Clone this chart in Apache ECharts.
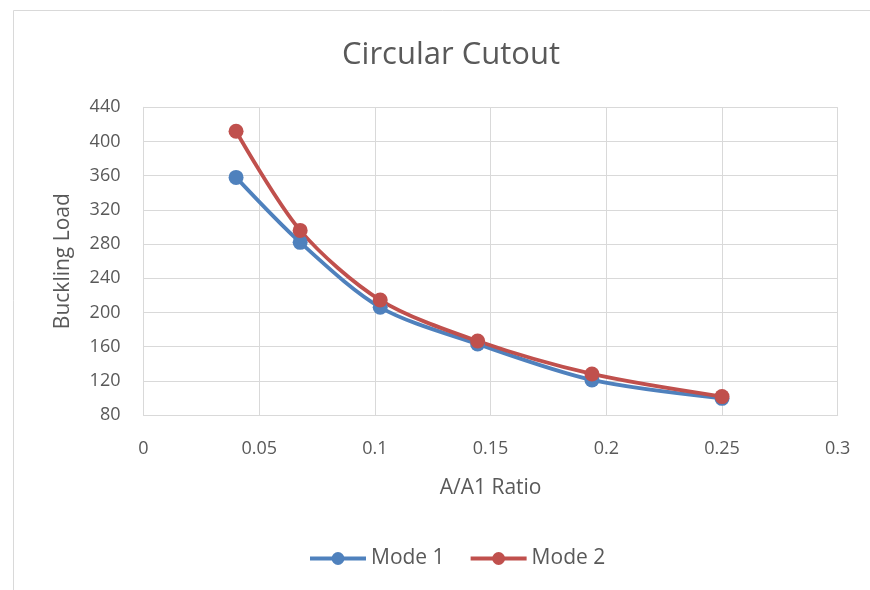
<!DOCTYPE html>
<html>
<head>
<meta charset="utf-8">
<script src="https://cdn.jsdelivr.net/npm/echarts@6/dist/echarts.min.js"></script>
<style>
html,body{margin:0;padding:0;background:#fff;}
#chart{width:870px;height:590px;}
</style>
</head>
<body>
<div id="chart"></div>
<script>
const ratios = [0.04, 0.0677, 0.1023, 0.1444, 0.1938, 0.25];
const mode1 = [358, 282, 206, 163, 121, 99.5];
const mode2 = [412, 296, 214.5, 166.5, 128, 101.5];
const seriesNames = ['Mode 1', 'Mode 2'];

const FONT = '"Open Sans", "Noto Sans", sans-serif';
const txt = '#595959';

const chart = echarts.init(document.getElementById('chart'));
chart.setOption({
  animation: false,
  backgroundColor: '#fff',
  graphic: [{
    type: 'rect', left: 11, top: 8,
    shape: { width: 900, height: 620 },
    style: { fill: 'none', stroke: '#d9d9d9', lineWidth: 1 },
    silent: true, z: -1
  }],
  title: {
    text: 'Circular Cutout', left: 446, textAlign: 'center', top: 35,
    textStyle: { fontFamily: FONT, fontSize: 31, fontWeight: 'normal', color: txt }
  },
  legend: {
    bottom: 16, left: 303, itemGap: 24, itemWidth: 56, itemHeight: 16,
    lineStyle: { width: 4 },
    textStyle: { fontFamily: FONT, fontSize: 21, color: txt },
    data: seriesNames
  },
  grid: { left: 143.5, right: 32.3, top: 107.3, bottom: 175 },
  xAxis: {
    type: 'value', min: 0, max: 0.3, interval: 0.05,
    name: 'A/A1 Ratio', nameLocation: 'middle', nameGap: 63,
    nameTextStyle: { fontFamily: FONT, fontSize: 21, color: txt },
    axisLine: { lineStyle: { color: '#d9d9d9', width: 1 } },
    axisTick: { show: false },
    axisLabel: { fontFamily: FONT, fontSize: 18, color: txt, margin: 25 },
    splitLine: { show: true, lineStyle: { color: '#d9d9d9', width: 1 } }
  },
  yAxis: {
    type: 'value', min: 80, max: 440, interval: 40,
    name: 'Buckling Load', nameLocation: 'middle', nameGap: 70, nameRotate: 90,
    nameTextStyle: { fontFamily: FONT, fontSize: 21, color: txt },
    axisLine: { show: true, lineStyle: { color: '#d9d9d9', width: 1 } },
    axisTick: { show: false },
    axisLabel: { fontFamily: FONT, fontSize: 18, color: txt, margin: 23 },
    splitLine: { show: true, lineStyle: { color: '#d9d9d9', width: 1 } }
  },
  series: [
    {
      name: seriesNames[0], type: 'line', smooth: 0.3,
      data: ratios.map((x, i) => [x, mode1[i]]),
      symbol: 'circle', symbolSize: 15,
      itemStyle: { color: '#4F81BD' },
      lineStyle: { color: '#4F81BD', width: 3.8 }
    },
    {
      name: seriesNames[1], type: 'line', smooth: 0.3,
      data: ratios.map((x, i) => [x, mode2[i]]),
      symbol: 'circle', symbolSize: 15,
      itemStyle: { color: '#C0504D' },
      lineStyle: { color: '#C0504D', width: 3.8 }
    }
  ]
});
</script>
</body>
</html>
